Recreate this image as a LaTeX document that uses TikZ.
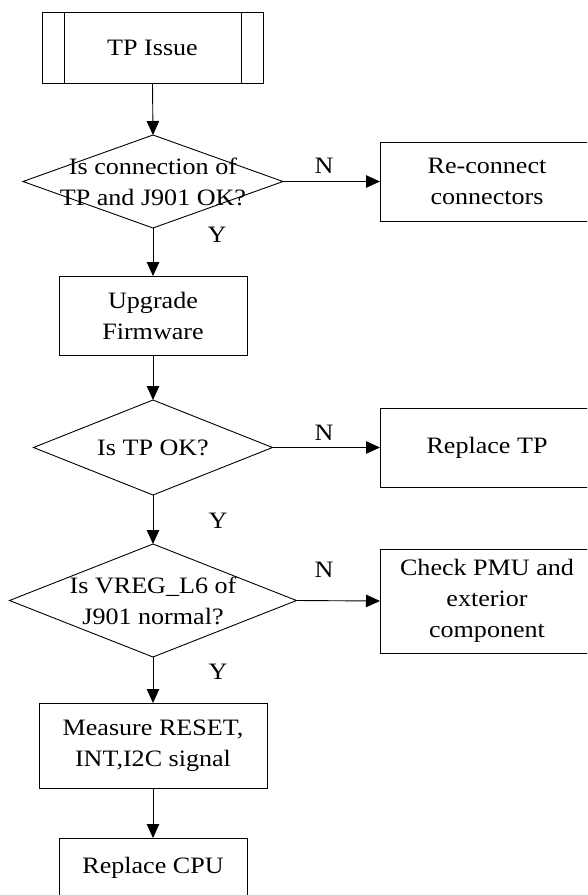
\documentclass[tikz,border=0pt]{standalone}
\usepackage{fontspec}
\setmainfont{Liberation Serif}[FakeStretch=1.11]
\usetikzlibrary{shapes.geometric,arrows.meta}
\tikzset{
  every node/.style={font=\fontsize{23.5}{31}\selectfont, inner sep=0pt, outer sep=0pt},
  procbox/.style={draw, line width=0.9pt, rectangle, align=center},
  decision/.style={draw, line width=0.9pt, diamond, aspect=1},
  dtext/.style={align=center},
  flow/.style={line width=0.9pt, -{Triangle[length=14pt,width=12.5pt]}},
  tag/.style={}
}
\begin{document}
\begin{tikzpicture}[x=1pt,y=-1pt]
\useasboundingbox (0,0) rectangle (587,895);
\clip (0,0) rectangle (587,895);

% main column
\node[procbox, minimum width=221pt, minimum height=71pt] (tp) at (152.5,47.5) {TP Issue};
\draw[line width=0.9pt] ([xshift=22pt]tp.north west) -- ([xshift=22pt]tp.south west);
\draw[line width=0.9pt] ([xshift=-22pt]tp.north east) -- ([xshift=-22pt]tp.south east);

\node[decision, minimum width=260pt, minimum height=93pt] (d1) at (153,181.5) {};
\node[dtext] (d1t) at (d1.center) {Is connection of\\TP and J901 OK?};

\node[procbox, minimum width=188pt, minimum height=79pt] (up) at (153,315.5) {Upgrade\\Firmware};

\node[decision, minimum width=239pt, minimum height=95pt] (d2) at (153,447.5) {};
\node[dtext] (d2t) at (d2.center) {Is TP OK?};

\node[decision, minimum width=287pt, minimum height=113pt] (d3) at (153,600.5) {};
\node[dtext] (d3t) at (d3.center) {Is VREG\_L6 of\\J901 normal?};

\node[procbox, minimum width=228pt, minimum height=85pt] (ms) at (153,745.5) {Measure RESET,\\INT,I2C signal};
\node[procbox, minimum width=188pt, minimum height=60pt] (cpu) at (153,868) {Replace CPU};

% side actions
\node[procbox, minimum width=214pt, minimum height=79pt] (rc) at (487,181.5) {Re-connect\\connectors};
\node[procbox, minimum width=214pt, minimum height=79pt] (rtp) at (487,447.5) {Replace TP};
\node[procbox, minimum width=214pt, minimum height=104pt] (pmu) at (487,601) {Check PMU and\\exterior\\component};

% connectors
\draw[flow] (tp.south) -- (d1.north);
\draw[flow] (d1.south) -- (up.north);
\draw[flow] (up.south) -- (d2.north);
\draw[flow] (d2.south) -- (d3.north);
\draw[flow] (d3.south) -- (ms.north);
\draw[flow] (ms.south) -- (cpu.north);
\draw[flow] (d1.east) -- (rc.west);
\draw[flow] (d2.east) -- (rtp.west);
\draw[flow] (d3.east) -- (pmu.west);

% branch labels
\node[tag] (y1) at (217,235) {Y};
\node[tag] (y2) at (218,521) {Y};
\node[tag] (y3) at (218,672) {Y};
\node[tag] (n1) at (324,165.5) {N};
\node[tag] (n2) at (324,432.5) {N};
\node[tag] (n3) at (324,569.5) {N};
\end{tikzpicture}
\end{document}
